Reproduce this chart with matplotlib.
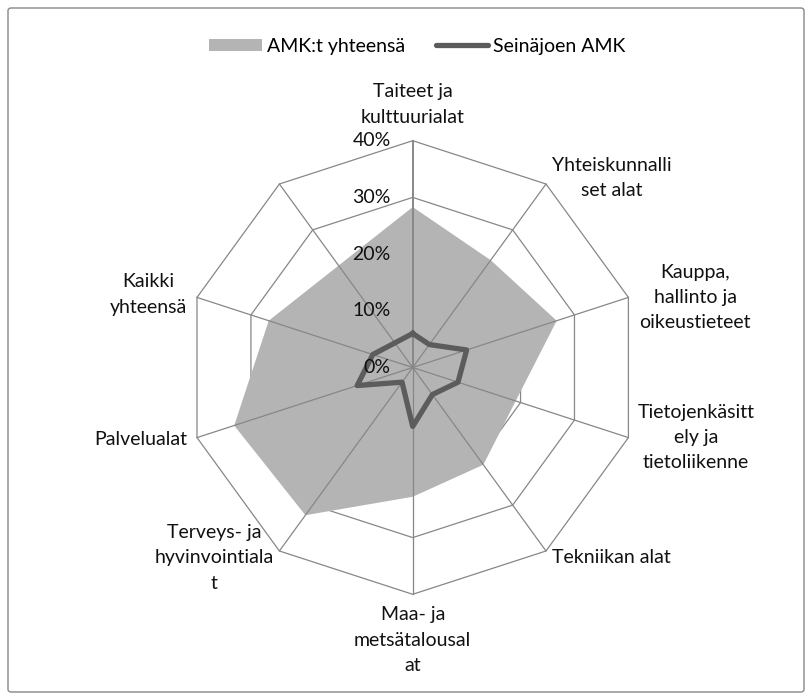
import numpy as np
import matplotlib
matplotlib.use("Agg")
import matplotlib.pyplot as plt
from matplotlib.patches import Patch, FancyBboxPatch
from matplotlib.lines import Line2D

plt.rcParams['font.family'] = ['Lato', 'DejaVu Sans']

# ---- data ----
categories = ["Taiteet ja\nkulttuurialat", "Yhteiskunnalli\nset alat",
              "Kauppa,\nhallinto ja\noikeustieteet",
              "Tietojenkäsitt\nely ja\ntietoliikenne", "Tekniikan alat",
              "Maa- ja\nmetsätalousal\nat", "Terveys- ja\nhyvinvointiala\nt",
              "Palvelualat", "Kaikki\nyhteensä", ""]
amk_total = [28.3, 23.4, 26.7, 19.1, 21.2, 22.8, 32.2, 33.1, 26.7, np.nan]
seinajoki = [6.0, 5.0, 10.0, 8.4, 5.9, 10.4, 3.2, 10.3, 7.4, np.nan]
ticks = [0, 10, 20, 30, 40]
tick_labels = ["0%", "10%", "20%", "30%", "40%"]
series_names = ["AMK:t yhteensä", "Seinäjoen AMK"]

# ---- styling / layout ----
W, H = 812, 700
cx, cy = 412.7, 367.5          # centre in pixels (from top-left)
R_px = 226.8                   # pixel radius of the outer ring
rmax = ticks[-1]
s = R_px / rmax                # pixels per data unit

fill_col = "#B4B4B4"
line_col = "#5C5C5C"
grid_col = "#878787"
FS = 14

# label offsets in pixels (dx, dy, ha, va)
label_style = [(0, 15, "center", "bottom"), (6, 6, "left", "center"),
               (11, 0, "left", "center"), (9, 0, "left", "center"),
               (6, -7, "left", "center"), (0, -12, "center", "top"),
               (-6, -7, "right", "center"), (-10, -2, "right", "center"),
               (-10, 3, "right", "center"), (0, 0, "center", "center")]

fig = plt.figure(figsize=(W / 100, H / 100), dpi=100)
ax = fig.add_axes([0, 0, 1, 1])
ax.set_xlim(-cx / s, (W - cx) / s)
ax.set_ylim(-(H - cy) / s, cy / s)
ax.set_aspect("equal")
ax.axis("off")

n = len(categories)
theta = np.deg2rad(90 - 360.0 / n * np.arange(n))
ux, uy = np.cos(theta), np.sin(theta)

# rings
for t in ticks[1:]:
    ax.plot(np.append(ux, ux[0]) * t, np.append(uy, uy[0]) * t,
            color=grid_col, lw=0.9, zorder=1)

def poly(vals):
    v = np.asarray(vals, dtype=float)
    m = np.isfinite(v)
    x, y = ux[m] * v[m], uy[m] * v[m]
    return np.append(x, x[0]), np.append(y, y[0])

px, py = poly(amk_total)
ax.fill(px, py, color=fill_col, lw=0, zorder=2)

# spokes
for i in range(n):
    ax.plot([0, ux[i] * rmax], [0, uy[i] * rmax], color=grid_col,
            lw=1.4 if i == 0 else 0.9, zorder=3)

lx, ly = poly(seinajoki)
ax.plot(lx, ly, color=line_col, lw=3.8, solid_joinstyle="round", zorder=4)

# value-axis tick labels
for t, lab in zip(ticks, tick_labels):
    ax.annotate(lab, xy=(0, t), xytext=(-22, 0), textcoords="offset pixels",
                ha="right", va="center", fontsize=FS, color="#111111", zorder=5)

# category labels
for i, lab in enumerate(categories):
    dx, dy, ha, va = label_style[i]
    ax.annotate(lab, xy=(ux[i] * rmax, uy[i] * rmax), xytext=(dx, dy),
                textcoords="offset pixels", ha=ha, va=va, fontsize=FS,
                multialignment="center", linespacing=1.6, color="#111111")

# legend
handles = [Patch(facecolor=fill_col, edgecolor="none"),
           Line2D([], [], color=line_col, lw=3.8, solid_capstyle="round")]
fig.legend(handles, series_names, loc="center", bbox_to_anchor=(0.514, 0.934),
           ncol=2, frameon=False, fontsize=FS, handlelength=2.7,
           handleheight=0.55, handletextpad=0.25, columnspacing=1.6)

# outer frame
fig.patches.append(FancyBboxPatch((8 / W, 8 / H), 796 / W, 684 / H,
                                  boxstyle="round,pad=0,rounding_size=0.004",
                                  transform=fig.transFigure, fill=False,
                                  edgecolor=grid_col, lw=1.0))

fig.savefig("out.png", dpi=100)
